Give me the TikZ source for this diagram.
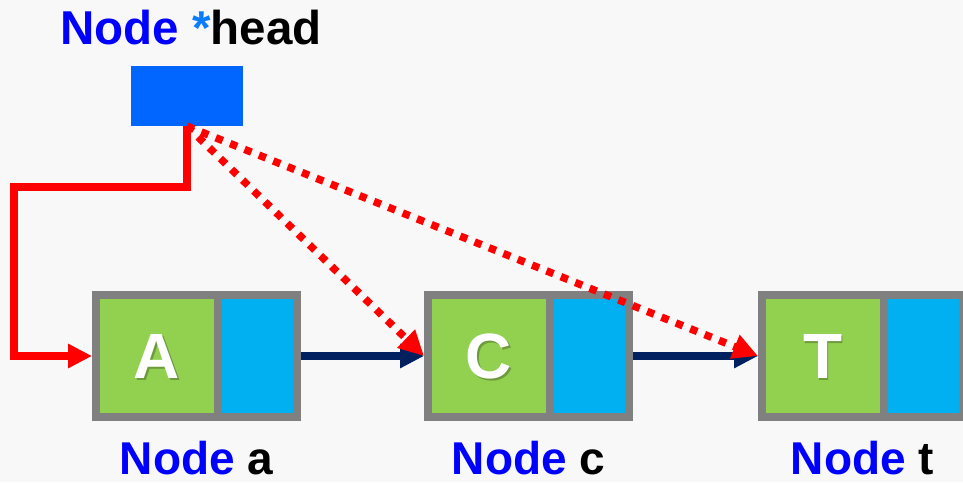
\documentclass[tikz,border=0pt]{standalone}
\usepackage{fontspec}
\setmainfont{Liberation Sans}
\usetikzlibrary{arrows.meta}

\definecolor{bgcol}{HTML}{F8F8F8}
\definecolor{headfill}{HTML}{0066FF}
\definecolor{cellgray}{HTML}{808080}
\definecolor{valgreen}{HTML}{92D050}
\definecolor{nextblue}{HTML}{00B0F0}
\definecolor{linknavy}{HTML}{002060}
\definecolor{ptrred}{HTML}{FF0000}
\definecolor{wordblue}{HTML}{0000FF}
\definecolor{starblue}{HTML}{0A7CFF}

\tikzset{
  listcell/.style={rectangle, draw=cellgray, line width=8pt, fill=valgreen,
    minimum width=201pt, minimum height=122pt, inner sep=0pt},
  nextpart/.style={rectangle, draw=cellgray, line width=8pt, fill=nextblue,
    minimum width=79pt, minimum height=122pt, inner sep=0pt, anchor=east},
  headbox/.style={rectangle, fill=headfill, minimum width=112pt,
    minimum height=60pt, inner sep=0pt},
  letter/.style={text=white, font=\bfseries\fontsize{64}{70}\selectfont, inner sep=0pt},
  lettershadow/.style={text=black, opacity=0.25, font=\bfseries\fontsize{64}{70}\selectfont, inner sep=0pt},
  caption/.style={font=\bfseries\fontsize{46}{52}\selectfont, inner sep=0pt, anchor=base},
  link/.style={draw=linknavy, line width=7.5pt,
    -{Triangle[length=24pt, width=23pt]}},
  headptr/.style={draw=ptrred, line width=7.5pt,
    -{Triangle[length=24pt, width=23pt]}},
  dotptr/.style={draw=ptrred, line width=7.5pt, dash pattern=on 7.5pt off 8pt,
    -{Triangle[length=25pt, width=24pt]}}
}

\begin{document}
\begin{tikzpicture}[x=1pt, y=-1pt]
  % page background
  \fill[bgcol] (0,0) rectangle (963,482);
  \useasboundingbox (0,0) rectangle (963,482);

  % head pointer
  \node[caption, anchor=base west, font=\bfseries\fontsize{47.5}{52}\selectfont] (title) at (60,44)
    {\color{wordblue}Node \color{starblue}*\color{black}head};
  \node[headbox] (head) at (187,96) {};

  % list nodes: value field and next field
  \node[listcell] (a) at (196.5,356) {};
  \node[nextpart] (anext) at (a.east) {};
  \node[lettershadow] (ashadow) at (158.5,358) {A};
  \node[letter] (aval) at (157,356.5) {A};
  \node[caption] (alabel) at (196.5,474) {\color{wordblue}Node \color{black}a};

  \node[listcell] (c) at (528.5,356) {};
  \node[nextpart] (cnext) at (c.east) {};
  \node[lettershadow] (cshadow) at (490.5,358) {C};
  \node[letter] (cval) at (489,356.5) {C};
  \node[caption] (clabel) at (528.5,474) {\color{wordblue}Node \color{black}c};

  \node[listcell] (t) at (862.5,356) {};
  \node[nextpart] (tnext) at (t.east) {};
  \node[lettershadow] (tshadow) at (824.5,358) {T};
  \node[letter] (tval) at (823,356.5) {T};
  \node[caption] (tlabel) at (862.5,474) {\color{wordblue}Node \color{black}t};

  % next links
  \draw[link] (anext.east) -- (c.west);
  \draw[link] (cnext.east) -- (t.west);

  % head points to the first node
  \coordinate (bendtop) at (14,187);
  \draw[headptr] (head.south) -- (head.south |- bendtop) -- (bendtop)
    -- (bendtop |- a.west) -- (a.west);

  % other possible head targets
  \draw[dotptr] (head.south) -- (c.west);
  \draw[dotptr] (head.south) -- (t.west);
\end{tikzpicture}
\end{document}
